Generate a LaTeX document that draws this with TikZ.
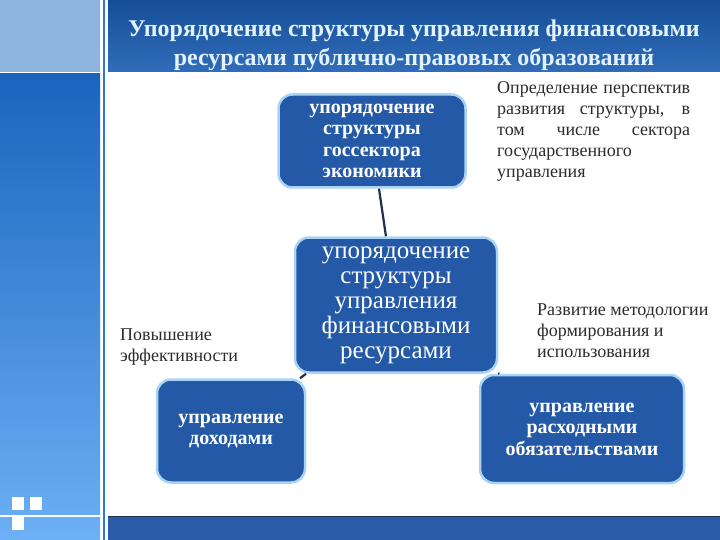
\documentclass[tikz,border=0pt]{standalone}
\usepackage{fontspec}
\setmainfont{Liberation Serif}
\usetikzlibrary{positioning}
\definecolor{boxblue}{HTML}{2459A8}
\definecolor{glowblue}{HTML}{A9D3F5}
\definecolor{headblue}{HTML}{1A5CB2}
\definecolor{footblue}{HTML}{2A5BA8}
\definecolor{titlecol}{HTML}{E2F3FF}
\definecolor{linkcol}{HTML}{1E2F4E}
\definecolor{notecol}{HTML}{2B2B2B}

\begin{document}
\begin{tikzpicture}[x=1pt,y=-1pt]
% Define styles for nodes and edges
\tikzstyle{goal} = [rectangle, rounded corners=14pt, draw=glowblue, line width=2.5pt, fill=boxblue, text=white, align=center, font=\bfseries\fontsize{20}{21.5}\selectfont, inner sep=2pt]
\tikzstyle{hubbox} = [goal, font=\fontsize{25}{25}\selectfont]
\tikzstyle{note} = [text=notecol, font=\fontsize{18}{21}\selectfont, inner sep=0pt, align=left, anchor=north west]
\tikzstyle{link} = [draw=linkcol, line width=2.2pt]

\useasboundingbox (0,0) rectangle (720,540);

% Background of the slide
\fill[white] (0,0) rectangle (720,540);
\fill[top color=headblue!85!black, bottom color=headblue!90!white] (108,0) rectangle (720,72);
\fill[footblue] (108,516) rectangle (720,540);
\draw[linkcol, line width=1pt] (108,516) -- (720,516);
\fill[color={rgb,255:red,142;green,180;blue,224}] (0,0) rectangle (100,72);
\fill[top color={rgb,255:red,27;green,100;blue,190}, bottom color={rgb,255:red,108;green,176;blue,245}] (0,73) rectangle (100,540);
\fill[color={rgb,255:red,45;green,120;blue,208}] (102.5,0) rectangle (105,540);
\draw[white, line width=1.2pt] (0,72.5) -- (100,72.5);
\draw[white, line width=1.2pt] (0,516) -- (100,516);
\foreach \sx/\sy in {12/497, 30/497, 12/517}
  \fill[white] (\sx,\sy) rectangle ++(12,13);

% Title
\node[text=titlecol, align=center, font=\bfseries\fontsize{24}{29}\selectfont] (title) at (414,45) {Упорядочение структуры управления финансовыми\\ресурсами публично-правовых образований};

% Nodes
\node[hubbox, minimum width=202pt, minimum height=135pt] (hub) at (396,305) {упорядочение\\структуры\\управления\\финансовыми\\ресурсами};
\node[goal, minimum width=187pt, minimum height=93pt] (sector) at (372,141) {упорядочение\\структуры\\госсектора\\экономики};
\node[goal, minimum width=148pt, minimum height=103pt] (income) at (231,431) {управление\\доходами};
\node[goal, minimum width=204pt, minimum height=108pt] (spend) at (582,429) {управление\\расходными\\обязательствами};

% Notes
\node[note, text width=193pt, align=justify] (prospect) at (497,81) {Определение перспектив\linebreak развития структуры, в\linebreak том числе сектора\linebreak государственного\\управления};
\node[note] (method) at (537,304) {Развитие методологии\\формирования и\\использования};
\node[note] (effect) at (120,329) {Повышение\\эффективности};

% Edges
\draw[link] (sector) -- (hub);
\draw[link] (income) -- (hub);
\draw[link] (spend) -- (hub);
\end{tikzpicture}
\end{document}
